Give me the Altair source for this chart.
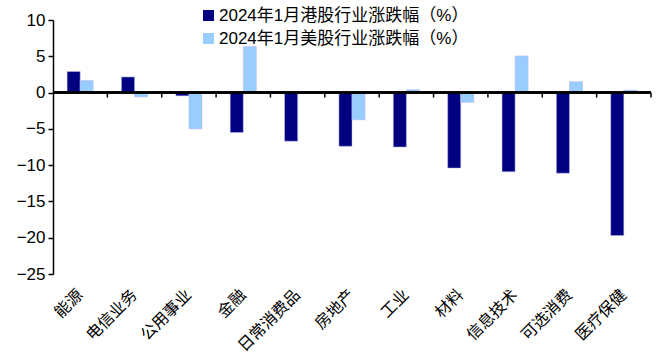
import altair as alt
import pandas as pd

categories = ["能源", "电信业务", "公用事业", "金融", "日常消费品", "房地产",
              "工业", "材料", "信息技术", "可选消费", "医疗保健"]
hk_values = [2.9, 2.15, -0.45, -5.5, -6.7, -7.4, -7.5, -10.4, -10.9, -11.1, -19.7]
us_values = [1.65, -0.6, -5.0, 6.35, 0.0, -3.75, 0.4, -1.35, 5.05, 1.5, 0.35]
series_names = ["2024年1月港股行业涨跌幅（%）", "2024年1月美股行业涨跌幅（%）"]
series_colors = ["#000080", "#99CCFF"]
y_ticks = [10, 5, 0, -5, -10, -15, -20, -25]

rows = []
for c, h, u in zip(categories, hk_values, us_values):
    rows.append({"category": c, "series": series_names[0], "value": h})
    rows.append({"category": c, "series": series_names[1], "value": u})
df = pd.DataFrame(rows)
cat_df = pd.DataFrame({"category": categories})

W, H = 598, 254
ymin, ymax = -25, 10
zero_px = H * (ymax - 0) / (ymax - ymin)
step = W / len(categories)

num_font = "Liberation Sans, Arial, Noto Sans CJK SC"
cjk_font = "Noto Sans CJK SC"

x_scale = alt.Scale(domain=categories, paddingInner=0.52, paddingOuter=0.26)
y_scale = alt.Scale(domain=[ymin, ymax], nice=False)

bars = alt.Chart(df).mark_bar(stroke="#b8b8e8", strokeWidth=0.5).encode(
    x=alt.X("category:N", sort=categories, scale=x_scale, title=None,
            axis=alt.Axis(labelAngle=-45, labelAlign="right", labelBaseline="middle",
                          labelFont=cjk_font, labelFontSize=16, labelColor="#000000",
                          labelPadding=18, ticks=False, domain=False, labelOverlap=False,
                          labelLimit=0)),
    xOffset=alt.XOffset("series:N", sort=series_names),
    y=alt.Y("value:Q", scale=y_scale, title=None,
            axis=alt.Axis(values=y_ticks, labelFont=num_font, labelFontSize=17,
                          labelColor="#000000", domain=True, domainColor="#000000",
                          domainWidth=1.5, ticks=True, tickColor="#000000", tickWidth=1.5,
                          tickSize=5, labelPadding=3, grid=False, labelOverlap=False)),
    color=alt.Color("series:N", sort=series_names,
                    scale=alt.Scale(domain=series_names, range=series_colors),
                    legend=alt.Legend(title=None, orient="none", legendX=147, legendY=-13,
                                      symbolType="square", symbolSize=121,
                                      symbolStrokeWidth=0, labelFont=num_font,
                                      labelFontSize=17, labelColor="#000000",
                                      labelOffset=2, rowPadding=5, labelLimit=0)),
)

zero_line = alt.Chart(cat_df).mark_rule(color="#000000", strokeWidth=1.5).encode(
    y=alt.datum(0, type="quantitative", scale=y_scale, axis=None),
)

boundary_ticks = alt.Chart(cat_df).mark_rule(
    color="#000000", strokeWidth=1.5, xOffset=step / 2
).encode(
    x=alt.X("category:N", sort=categories, scale=x_scale, axis=None),
    y=alt.value(zero_px),
    y2=alt.value(zero_px + 5),
)

chart = alt.layer(bars, zero_line, boundary_ticks).resolve_axis(
    x="independent", y="independent"
).properties(
    width=W, height=H,
    autosize=alt.AutoSizeParams(type="none"),
    padding={"left": 53, "top": 20, "right": 8, "bottom": 82},
).configure_view(stroke=None)

chart.save("out.html", embed_options={"renderer": "svg", "actions": False})
